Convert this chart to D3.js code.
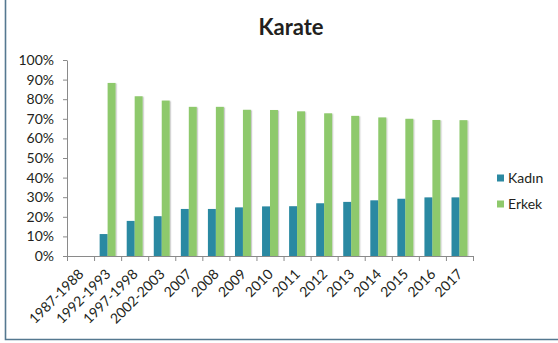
<!DOCTYPE html>
<html>
<head>
<meta charset="utf-8">
<script src="https://cdn.jsdelivr.net/npm/d3@7/dist/d3.min.js"></script>
<style>
  html, body { margin: 0; padding: 0; background: #fff; }
  svg { display: block; font-family: Lato, "Open Sans", sans-serif; }
</style>
</head>
<body>
<svg id="chart" width="558" height="343"></svg>
<script>
// Karate participation share by gender
const categories = ["1987-1988", "1992-1993", "1997-1998", "2002-2003", "2007", "2008", "2009",
  "2010", "2011", "2012", "2013", "2014", "2015", "2016", "2017"];
const kadin = [null, 11.2, 17.9, 20.3, 24.0, 24.0, 24.8, 25.3, 25.4, 26.9, 27.6, 28.4, 29.2, 29.9, 29.9];
const erkek = [null, 88.3, 81.5, 79.3, 76.1, 76.1, 74.6, 74.5, 73.8, 72.8, 71.5, 70.7, 70.0, 69.4, 69.3];
const yTicks = [0, 10, 20, 30, 40, 50, 60, 70, 80, 90, 100];
const seriesNames = ["Kadın", "Erkek"];
const colors = { "Kadın": "#2b89a2", "Erkek": "#8ec96c" };

const svg = d3.select("#chart");

// frame (left and bottom edges)
svg.append("path")
  .attr("d", "M5.5,0 V339.5 H558")
  .attr("fill", "none")
  .attr("stroke", "#557890")
  .attr("stroke-width", 1.6);

// title
svg.append("text")
  .attr("x", 291).attr("y", 35)
  .attr("text-anchor", "middle")
  .attr("font-size", 22).attr("font-weight", "bold")
  .attr("fill", "#231f20")
  .text("Karate");

const plotLeft = 67, plotRight = 473, plotTop = 60, plotBottom = 256;

const x = d3.scaleBand().domain(categories).range([plotLeft, plotRight]).padding(0);
const xs = d3.scaleBand().domain(seriesNames).range([0, x.bandwidth()]).paddingInner(0).paddingOuter(0.7);
const y = d3.scaleLinear().domain([0, 100]).range([plotBottom, plotTop]);

const defs = svg.append("defs");
const f = defs.append("filter").attr("id", "sh").attr("x", "-30%").attr("y", "-10%").attr("width", "180%").attr("height", "130%");
f.append("feDropShadow").attr("dx", 1.2).attr("dy", 0.5).attr("stdDeviation", 0.6)
  .attr("flood-color", "#000").attr("flood-opacity", 0.22);

// bars
const rows = categories.map((c, i) => ({ c, vals: [["Kadın", kadin[i]], ["Erkek", erkek[i]]] }));
const g = svg.append("g");
rows.forEach(r => {
  r.vals.forEach(([s, v]) => {
    if (v == null) return;
    g.append("rect")
      .attr("x", x(r.c) + xs(s))
      .attr("y", y(v))
      .attr("width", xs.bandwidth())
      .attr("height", y(0) - y(v))
      .attr("fill", colors[s])
      .attr("filter", "url(#sh)");
  });
});

// y axis
const yAxis = svg.append("g")
  .attr("transform", `translate(${plotLeft},0)`)
  .call(d3.axisLeft(y).tickValues(yTicks).tickFormat(d => d + "%").tickSize(4).tickSizeOuter(0));
yAxis.select(".domain").attr("stroke", "#8a8a8a");
yAxis.selectAll(".tick line").attr("stroke", "#8a8a8a");
yAxis.selectAll(".tick text")
  .attr("x", -13)
  .attr("font-size", 14)
  .attr("font-family", "Lato, sans-serif")
  .attr("fill", "#231f20");

// x axis
const xAxis = svg.append("g")
  .attr("transform", `translate(0,${plotBottom})`)
  .call(d3.axisBottom(x).tickSize(0).tickSizeOuter(0));
xAxis.select(".domain").attr("stroke", "#8a8a8a");
// tick marks on category boundaries
const edges = categories.map(c => x(c)).concat([x.range()[1]]);
xAxis.selectAll(".edge").data(edges).join("line")
  .attr("class", "edge")
  .attr("x1", d => d + 0.5).attr("x2", d => d + 0.5)
  .attr("y1", 0).attr("y2", 5)
  .attr("stroke", "#8a8a8a");
xAxis.selectAll(".tick text")
  .attr("font-size", 14)
  .attr("font-family", "Lato, sans-serif")
  .attr("fill", "#231f20")
  .attr("text-anchor", "end")
  .attr("y", 0)
  .attr("dy", 0)
  .attr("transform", "translate(4,19) rotate(-45)");

// legend
const legend = svg.append("g");
seriesNames.forEach((s, i) => {
  const ly = 178 + i * 26;
  legend.append("rect")
    .attr("x", 497).attr("y", ly - 3.5)
    .attr("width", 7).attr("height", 7)
    .attr("fill", colors[s]);
  legend.append("text")
    .attr("x", 508).attr("y", ly)
    .attr("dy", "0.35em")
    .attr("font-size", 14)
    .attr("fill", "#231f20")
    .text(s);
});
</script>
</body>
</html>
